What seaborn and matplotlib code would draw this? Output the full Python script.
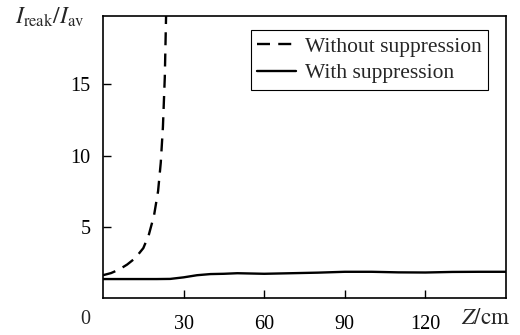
import matplotlib
matplotlib.use("Agg")
import matplotlib.pyplot as plt
import seaborn as sns
import pandas as pd
import numpy as np

# Data
z_without = [0, 3, 6, 9, 12, 15, 17, 19, 20.5, 21.5, 22.3, 23.0, 23.5]
i_without = [1.6, 1.75, 2.0, 2.35, 2.8, 3.5, 4.4, 5.8, 7.5, 9.5, 12.0, 15.5, 20.0]
z_with = [0, 10, 20, 25, 30, 35, 40, 45, 50, 55, 60, 70, 80, 90, 100, 110, 120, 130, 140, 150]
i_with = [1.33, 1.33, 1.33, 1.34, 1.45, 1.6, 1.68, 1.7, 1.74, 1.72, 1.7, 1.74, 1.78, 1.84, 1.84, 1.8, 1.79, 1.83, 1.84, 1.84]
series_names = ["Without suppression", "With suppression"]
x_ticks = [30, 60, 90, 120]
y_ticks = [5, 10, 15]

df = pd.concat([
    pd.DataFrame({"Z": z_without, "I": i_without, "series": series_names[0]}),
    pd.DataFrame({"Z": z_with, "I": i_with, "series": series_names[1]}),
])

sns.set_style("ticks")
plt.rcParams["font.family"] = ["Liberation Serif", "DejaVu Serif"]
plt.rcParams["mathtext.fontset"] = "stix"

fig = plt.figure(figsize=(5.2, 3.35), dpi=100)
ax = fig.add_axes([103 / 520, 1 - 298 / 335, (506 - 103) / 520, (298 - 16) / 335])

sns.lineplot(data=df, x="Z", y="I", hue="series", style="series",
             hue_order=series_names, style_order=series_names,
             palette=["black", "black"], dashes={series_names[0]: (5.5, 3.5), series_names[1]: ""},
             linewidth=1.7, ax=ax, sort=False, estimator=None)

ax.set_xlim(0, 150)
ax.set_ylim(0, 19.8)
ax.set_xticks(x_ticks)
ax.set_yticks(y_ticks)
ax.tick_params(direction="in", length=6, width=1.0, labelsize=14.5, pad=9, colors="black")
ax.tick_params(axis="x", pad=12)
for s in ax.spines.values():
    s.set_linewidth(1.2)
    s.set_color("black")
ax.set_xlabel("")
ax.set_ylabel("")

fig.text(85 / 520, 1 - 319 / 335, "0", ha="center", va="center", fontsize=14.5)
fig.text(486 / 520, 1 - 318 / 335, r"$Z/\mathrm{cm}$", ha="center", va="center", fontsize=16.5)
fig.text(50 / 520, 1 - 17 / 335, r"$I_{\mathrm{reak}}/I_{\mathrm{av}}$", ha="center", va="center", fontsize=17)

leg = ax.legend(title=None, loc="upper right", bbox_to_anchor=(0.955, 0.95),
                frameon=True, fancybox=False, edgecolor="black", fontsize=15.5,
                handlelength=1.8, borderpad=0.3, labelspacing=0.3, handletextpad=0.4,
                borderaxespad=0)
leg.get_frame().set_linewidth(0.8)
leg.get_frame().set_alpha(1)

fig.savefig("out.png", dpi=100)
